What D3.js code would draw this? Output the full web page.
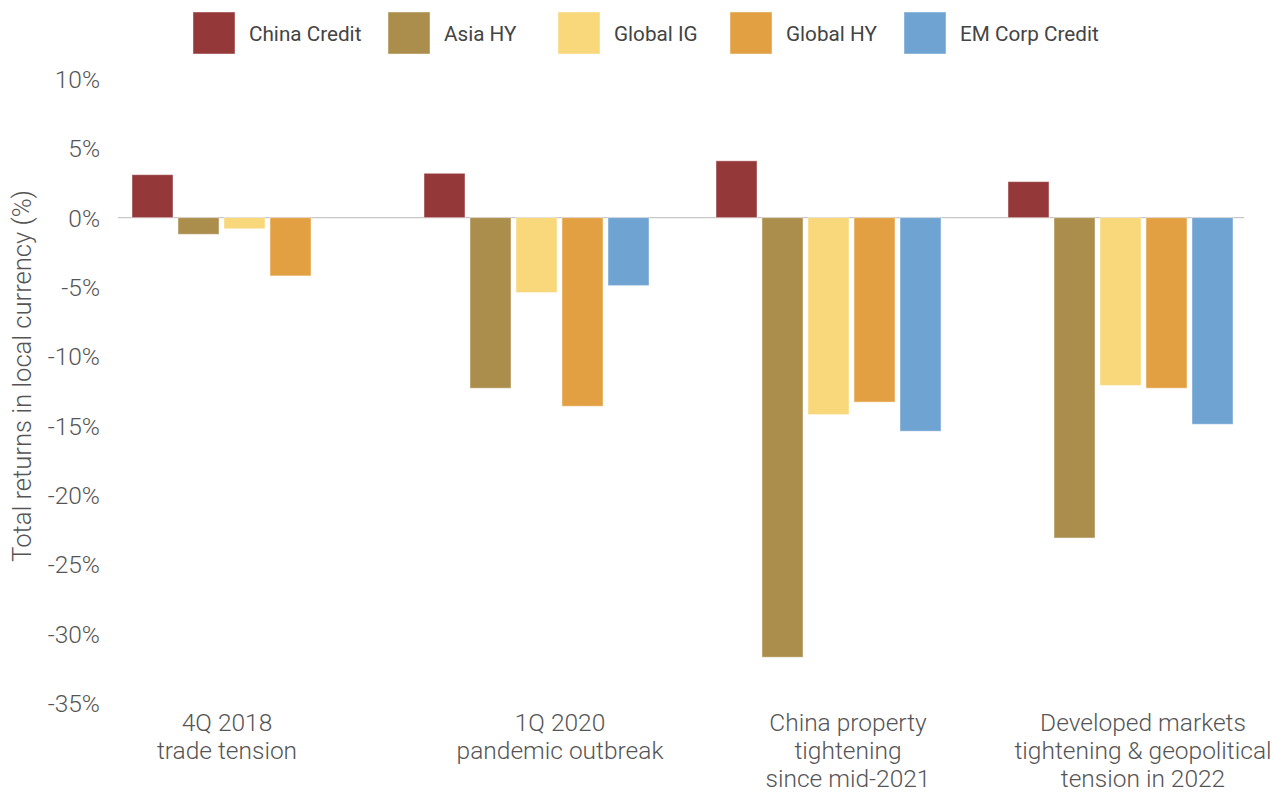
<!DOCTYPE html>
<html>
<head>
<meta charset="utf-8">
<script src="https://cdn.jsdelivr.net/npm/d3@7"></script>
<style>
  html, body { margin: 0; padding: 0; background: #fff; }
  svg { display: block; font-family: Roboto, "Liberation Sans", sans-serif; }
</style>
</head>
<body>
<svg id="chart" width="1273" height="794"></svg>
<script>
// Episodes of market stress (x categories)
const categories = [
  ["4Q 2018", "trade tension"],
  ["1Q 2020", "pandemic outbreak"],
  ["China property", "tightening", "since mid-2021"],
  ["Developed markets", "tightening & geopolitical", "tension in 2022"]
];

// Series names and colours
const seriesNames = ["China Credit", "Asia HY", "Global IG", "Global HY", "EM Corp Credit"];
const seriesColors = ["#94383a", "#ab8d4c", "#f8d87a", "#e2a042", "#6fa3d2"];

// Total returns in local currency (%), one array per series
const chinaCredit  = [3.1, 3.2, 4.1, 2.6];
const asiaHY       = [-1.2, -12.3, -31.7, -23.1];
const globalIG     = [-0.8, -5.4, -14.2, -12.1];
const globalHY     = [-4.2, -13.6, -13.3, -12.3];
const emCorpCredit = [null, -4.9, -15.4, -14.9];
const seriesValues = [chinaCredit, asiaHY, globalIG, globalHY, emCorpCredit];

// Y axis ticks
const yTicks = [10, 5, 0, -5, -10, -15, -20, -25, -30, -35];

const svg = d3.select("#chart");

const y = d3.scaleLinear().domain([-35, 10]).range([703, 79]);

const catKeys = categories.map((c, i) => i);
const x0 = d3.scaleBand().domain(catKeys).range([132, 1238]).paddingInner(62 / 292).paddingOuter(0);
const x1 = d3.scaleBand().domain(seriesNames).range([0, 225]).paddingInner(5 / 46).paddingOuter(0);

// Zero baseline
svg.append("line")
  .attr("x1", 118).attr("x2", 1244)
  .attr("y1", y(0)).attr("y2", y(0))
  .attr("stroke", "#c8c8c8").attr("stroke-width", 1.2);

// Y axis labels
const yAxis = d3.axisLeft(y).tickValues(yTicks).tickSize(0).tickPadding(0)
  .tickFormat(d => d + "%");
const yg = svg.append("g").attr("transform", "translate(100,0)").call(yAxis);
yg.select(".domain").remove();
yg.selectAll("text")
  .attr("font-family", "Roboto, 'Liberation Sans', sans-serif")
  .attr("font-weight", 300)
  .attr("font-size", 24.5)
  .attr("fill", "#555")
  .attr("dy", "0.35em");

// Y axis title
svg.append("text")
  .attr("transform", "translate(31,376) rotate(-90)")
  .attr("text-anchor", "middle")
  .attr("font-weight", 300)
  .attr("font-size", 25.6)
  .attr("fill", "#555")
  .text("Total returns in local currency (%)");

// Bars
const bars = [];
seriesValues.forEach((vals, s) => {
  vals.forEach((v, c) => {
    if (v !== null) bars.push({ c, s, v });
  });
});

svg.append("g").selectAll("rect")
  .data(bars)
  .join("rect")
  .attr("x", d => x0(d.c) + x1(seriesNames[d.s]))
  .attr("width", x1.bandwidth())
  .attr("y", d => y(Math.max(0, d.v)))
  .attr("height", d => Math.abs(y(d.v) - y(0)))
  .attr("fill", d => seriesColors[d.s])
  .attr("stroke", "rgba(255,255,255,0.45)")
  .attr("stroke-width", 1);

// Category labels (centred under each group, nudged to sit under the bars)
const labelShift = [-20, 21, 17, 20];
const catG = svg.append("g");
categories.forEach((lines, i) => {
  const cx = x0(i) + x0.bandwidth() / 2 + labelShift[i];
  const t = catG.append("text")
    .attr("text-anchor", "middle")
    .attr("font-weight", 300)
    .attr("font-size", 24.5)
    .attr("fill", "#555");
  lines.forEach((ln, k) => {
    t.append("tspan").attr("x", cx).attr("y", 731 + k * 28).text(ln);
  });
});

// Legend
const legendX = [193, 388, 558, 730, 904];
const lg = svg.append("g");
seriesNames.forEach((name, i) => {
  lg.append("rect")
    .attr("x", legendX[i]).attr("y", 12)
    .attr("width", 42).attr("height", 42)
    .attr("fill", seriesColors[i])
    .attr("stroke", "rgba(255,255,255,0.45)");
  lg.append("text")
    .attr("x", legendX[i] + 56).attr("y", 41)
    .attr("font-weight", 400)
    .attr("font-size", 20.7)
    .attr("fill", "#444")
    .text(name);
});
</script>
</body>
</html>
